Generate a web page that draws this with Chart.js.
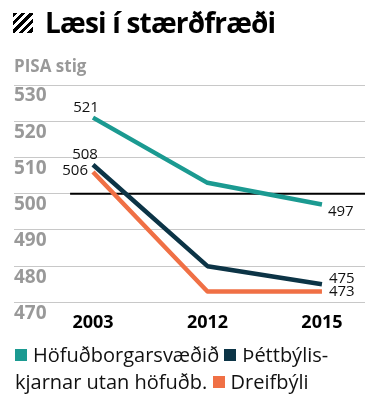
<!DOCTYPE html>
<html>
<head>
<meta charset="utf-8">
<script src="https://cdn.jsdelivr.net/npm/chart.js@4"></script>
<style>
  html,body{margin:0;padding:0;background:#fff;}
  #wrap{position:relative;width:390px;height:400px;overflow:hidden;font-family:"Open Sans",sans-serif;}
  #chartBox{position:absolute;left:0;top:0;width:390px;height:400px;}
  #title{position:absolute;left:13px;top:3px;font-weight:700;font-size:28px;letter-spacing:-0.8px;color:#000;white-space:nowrap;}
  #title .ico{display:inline-block;width:20px;height:20px;margin-right:12px;vertical-align:0;
    background:repeating-linear-gradient(135deg,#000 0 3px,transparent 3px 6px);}
  #sub{position:absolute;left:14px;top:54px;font-weight:700;font-size:17px;color:#999;}
  #legend{position:absolute;left:15px;top:341px;font-size:20px;line-height:27px;color:#111;white-space:nowrap;}
  #legend .sq{display:inline-block;width:12px;height:12px;margin-right:6px;vertical-align:1px;}
</style>
</head>
<body>
<div id="wrap">
  <div id="chartBox"><canvas id="chartPisa"></canvas></div>
  <div id="title"><span class="ico"></span>Læsi í stærðfræði</div>
  <div id="sub">PISA stig</div>
  <div id="legend"></div>
</div>
<script>
// gögn
const years = ["2003", "2012", "2015"];
const hofudborg = [521, 503, 497];
const thettbyli = [508, 480, 475];
const dreifbyli = [506, 473, 473];
const seriesNames = ["Höfuðborgarsvæðið", "Þéttbýlis-|kjarnar utan höfuðb.", "Dreifbýli"];
const oecdMean = 500;
const yMin = 470, yMax = 530, yStep = 10;

const colors = ["#1b9a91", "#0c3446", "#f07045"];

// legend i html (brotið eins og i frumriti)
const leg = document.getElementById("legend");
leg.innerHTML = seriesNames.map((n,i)=>{
  const txt = n.replace("|", "<br>");
  return '<span class="sq" style="background:'+colors[i]+'"></span>'+txt;
}).join(" ");

const toPts = arr => arr.map((v,i)=>({x:i, y:v}));

// merkingar á fyrsta og síðasta punkti
const endLabels = {
  id:"endLabels",
  afterDatasetsDraw(chart){
    const ctx = chart.ctx;
    ctx.save();
    ctx.font = "15px 'Open Sans', sans-serif";
    ctx.fillStyle = "#111";
    ctx.textBaseline = "middle";
    chart.data.datasets.forEach((ds, di)=>{
      if(!ds.labelPos) return;
      const meta = chart.getDatasetMeta(di);
      const idx = [0, ds.data.length-1];
      idx.forEach((pi, k)=>{
        const p = meta.data[pi];
        const lp = ds.labelPos[k];
        ctx.textAlign = lp.align;
        ctx.fillText(String(ds.data[pi].y), p.x+lp.dx, p.y+lp.dy);
      });
    });
    ctx.restore();
  }
};

const lastX = years.length - 1;

new Chart(document.getElementById("chartPisa").getContext("2d"), {
  type:"line",
  data:{
    datasets:[
      { data: toPts(hofudborg), borderColor: colors[0],
        labelPos:[{align:"center",dx:-7,dy:-10},{align:"left",dx:6,dy:7}] },
      { data: toPts(thettbyli), borderColor: colors[1],
        labelPos:[{align:"center",dx:-8,dy:-10},{align:"left",dx:7,dy:-6}] },
      { data: toPts(dreifbyli), borderColor: colors[2],
        labelPos:[{align:"right",dx:-5,dy:-1},{align:"left",dx:7,dy:0}] },
      { data: [{x:-0.2, y:oecdMean},{x:lastX+0.376, y:oecdMean}], borderColor:"#000",
        borderWidth:2 }
    ]
  },
  options:{
    responsive:true,
    maintainAspectRatio:false,
    animation:false,
    layout:{ padding:{ left:14, right:25, top:85, bottom:64 } },
    elements:{
      line:{ borderWidth:4.5, tension:0, borderJoinStyle:"round", borderCapStyle:"butt" },
      point:{ radius:0 }
    },
    plugins:{ legend:{display:false}, tooltip:{enabled:false} },
    scales:{
      x:{
        type:"linear",
        min:-0.69, max:lastX+0.376,
        afterBuildTicks: s => { s.ticks = years.map((y,i)=>({value:i})); },
        grid:{ display:false },
        border:{ display:false },
        ticks:{
          callback: v => years[v],
          color:"#000",
          font:{ family:"'Open Sans', sans-serif", size:18, weight:"bold" },
          padding:2,
          maxRotation:0
        }
      },
      y:{
        min:yMin, max:yMax,
        border:{ display:false },
        grid:{ color:"#c8c8c8", lineWidth:1, drawTicks:false },
        ticks:{
          stepSize:yStep,
          mirror:true,
          padding:0,
          labelOffset:11,
          color:"#999",
          font:{ family:"'Open Sans', sans-serif", size:19, weight:"bold" }
        }
      }
    }
  },
  plugins:[endLabels]
});
</script>
</body>
</html>
